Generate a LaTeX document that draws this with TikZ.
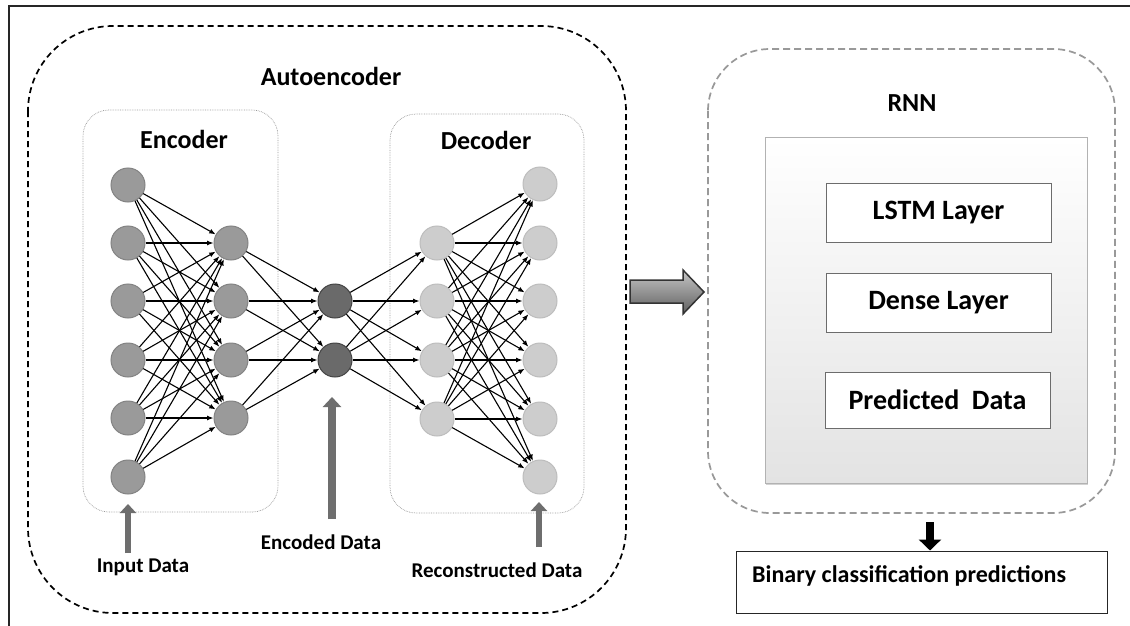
\documentclass[tikz,border=0pt]{standalone}
\usepackage{fontspec}
\setmainfont{Carlito}
\usetikzlibrary{arrows.meta,shadows}
\definecolor{encgray}{HTML}{9A9A9A}
\definecolor{midgray}{HTML}{6A6A6A}
\definecolor{decgray}{HTML}{CDCDCD}
\definecolor{arrgray}{HTML}{6E6E6E}
\begin{document}
\begin{tikzpicture}[x=1pt,y=-1pt,
  neuron/.style={circle, minimum size=34pt, inner sep=0pt, line width=1pt},
  encn/.style={neuron, fill=encgray, draw=encgray!85!black},
  midn/.style={neuron, fill=midgray, draw=midgray!65!black},
  decn/.style={neuron, fill=decgray, draw=decgray!92!black},
  conn/.style={-{Latex[length=6.5pt,width=5pt]}, line width=1.1pt, black},
  upar/.style={-{Triangle[length=9pt,width=16pt]}, line width=6pt, arrgray},
  lab/.style={font=\bfseries\fontsize{21}{24}\selectfont, inner sep=0pt},
  title/.style={font=\bfseries\fontsize{26}{30}\selectfont, inner sep=0pt},
  subbox/.style={draw=gray!80, densely dotted, line width=0.7pt, rounded corners=26pt},
  layerbox/.style={draw=gray!85!black, fill=white, line width=0.8pt, minimum width=225pt, minimum height=59pt, font=\bfseries\fontsize{28}{31}\selectfont}
]
\useasboundingbox (0,0) rectangle (1130,626);
\fill[white] (0,0) rectangle (1130,626);
% outer frame (left and top edges visible)
\draw[line width=1.6pt, black!85] (9,626) -- (9,6) -- (1130,6);

% Autoencoder container
\draw[dash pattern=on 6pt off 4pt, line width=1.7pt, black] [rounded corners=85pt] (28,26) rectangle (626,613);
\node[title] (aetitle) at (331,76) {Autoencoder};

% encoder/decoder boxes
\draw[subbox] (83,110) rectangle (278,512);
\draw[subbox] (390,114) rectangle (584,513);
\node[title] (enct) at (184,139) {Encoder};
\node[title] (dect) at (486,140) {Decoder};

% neurons
\foreach \y [count=\i] in {185,243,301,360,418,477} \node[encn] (e\i) at (128,\y) {};
\foreach \y [count=\i] in {243,301,360,418} \node[encn] (f\i) at (231,\y) {};
\foreach \y [count=\i] in {301,360} \node[midn] (m\i) at (335,\y) {};
\foreach \y [count=\i] in {243,301,360,419} \node[decn] (g\i) at (437,\y) {};
\foreach \y [count=\i] in {184,243,301,360,419,477} \node[decn] (h\i) at (540,\y) {};

% connections
\foreach \i in {1,...,6} \foreach \j in {1,...,4} \draw[conn] (e\i) -- (f\j);
\foreach \i in {1,...,4} \foreach \j in {1,2} \draw[conn] (f\i) -- (m\j);
\foreach \i in {1,2} \foreach \j in {1,...,4} \draw[conn] (m\i) -- (g\j);
\foreach \i in {1,...,4} \foreach \j in {1,...,6} \draw[conn] (g\i) -- (h\j);

% data labels and arrows
\node[lab] (inlab) at (143,567) {Input Data};
\node[lab] (enclab) at (321,542) {Encoded Data};
\node[lab] (reclab) at (497,570) {Reconstructed Data};
\coordinate (ina) at (128,553);
\coordinate (inb) at (128,504);
\coordinate (enca) at (332,519);
\coordinate (encb) at (332,397);
\coordinate (reca) at (539,547);
\coordinate (recb) at (539,502);
\draw[upar] (ina) -- (inb);
\draw[upar, line width=8pt, -{Triangle[length=10pt,width=18pt]}] (enca) -- (encb);
\draw[upar] (reca) -- (recb);

% big transfer arrow
\draw[line width=1.5pt, black!80, top color=gray!45, bottom color=gray!75!black]
  (630,280) -- (683,280) -- (683,270) -- (704,292) -- (683,314) -- (683,303) -- (630,303) -- cycle;

% RNN container
\draw[dash pattern=on 7pt off 4pt, line width=1.7pt, gray!80] [rounded corners=62pt] (708,49) rectangle (1115,513);
\node[title] (rnnt) at (912,103) {RNN};
\node[draw=gray!60, line width=0.8pt, top color=white, bottom color=gray!22, minimum width=322pt, minimum height=346pt,
      drop shadow={shadow xshift=1pt, shadow yshift=-2pt, opacity=0.35}] (inner) at (926,310) {};
\node[layerbox] (lstm) at (938.5,213) {LSTM Layer};
\node[layerbox] (dense) at (938.5,302.5) {Dense Layer};
\node[layerbox, minimum height=56pt] (pred) at (937.5,400) {Predicted~ Data};

% output
\node[draw=black!85, line width=1pt, minimum width=371pt, minimum height=62pt] (bin) at (921.5,582) {};
\node[lab, font=\bfseries\fontsize{24}{26}\selectfont, anchor=west] (bintext) at (752,576) {Binary classification predictions};
\coordinate (bina) at (930,522);
\draw[-{Triangle[length=11pt,width=22pt]}, line width=8pt, black] (bina) -- (bin.north -| bina);
\end{tikzpicture}
\end{document}
